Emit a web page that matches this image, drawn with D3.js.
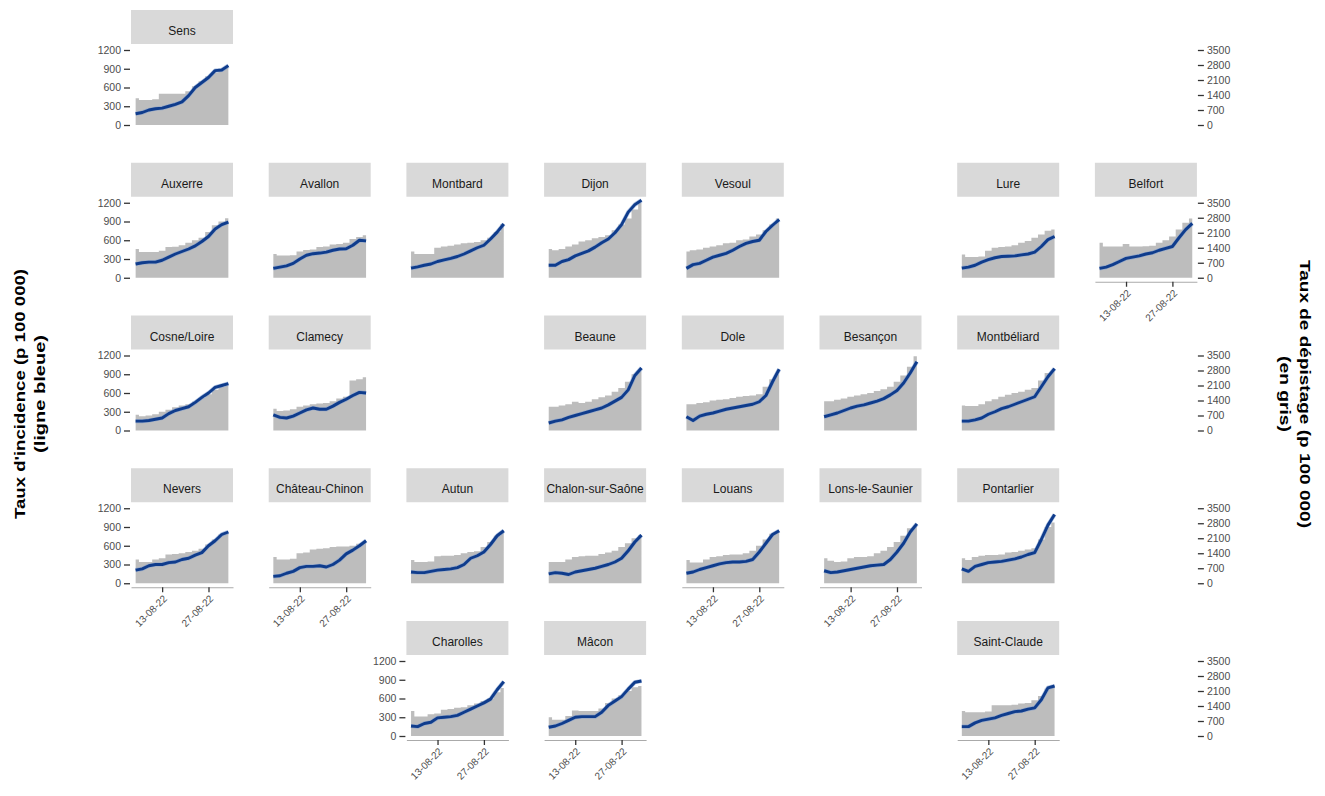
<!DOCTYPE html>
<html>
<head>
<meta charset="utf-8">
<style>
  body { margin: 0; padding: 0; background: #fff; }
  text { font-family: "Liberation Sans", Arial, sans-serif; }
</style>
</head>
<body>
<div id="chart"></div>
<script src="https://cdnjs.cloudflare.com/ajax/libs/d3/7.8.5/d3.min.js"></script>
<script>
// one reading every two days
var dates = ["2022-08-05", "2022-08-07", "2022-08-09", "2022-08-11", "2022-08-13",
  "2022-08-15", "2022-08-17", "2022-08-19", "2022-08-21", "2022-08-23",
  "2022-08-25", "2022-08-27", "2022-08-29", "2022-08-31", "2022-09-02"];

var sites = ["Sens", "Auxerre", "Avallon", "Montbard", "Dijon", "Vesoul", "Lure", "Belfort",
  "Cosne/Loire", "Clamecy", "Beaune", "Dole", "Besançon", "Montbéliard",
  "Nevers", "Château-Chinon", "Autun", "Chalon-sur-Saône", "Louans", "Lons-le-Saunier", "Pontarlier",
  "Charolles", "Mâcon", "Saint-Claude"];

// geofacet grid (row, column) of each site
var gridRow = [0, 1, 1, 1, 1, 1, 1, 1, 2, 2, 2, 2, 2, 2, 3, 3, 3, 3, 3, 3, 3, 4, 4, 4];
var gridCol = [0, 0, 1, 2, 3, 4, 6, 7, 0, 1, 3, 4, 5, 6, 0, 1, 2, 3, 4, 5, 6, 2, 3, 6];

// taux d'incidence (ligne bleue), same order as sites
var incidence = [
  [180, 200, 240, 260, 270, 300, 330, 370, 470, 600, 680, 760, 870, 880, 950],
  [220, 240, 250, 250, 280, 330, 380, 420, 460, 510, 580, 660, 780, 850, 890],
  [150, 170, 190, 230, 300, 360, 385, 395, 410, 440, 460, 465, 520, 600, 590],
  [155, 175, 200, 220, 260, 285, 310, 340, 380, 430, 480, 520, 620, 730, 860],
  [200, 200, 260, 290, 350, 390, 430, 490, 560, 620, 720, 850, 1050, 1170, 1240],
  [150, 210, 230, 280, 330, 360, 390, 440, 500, 550, 580, 600, 740, 840, 930],
  [155, 170, 200, 250, 290, 320, 340, 345, 350, 365, 380, 410, 500, 610, 660],
  [150, 170, 210, 260, 310, 330, 350, 380, 400, 440, 470, 500, 640, 770, 870],
  [150, 150, 160, 180, 200, 270, 320, 350, 380, 450, 530, 600, 690, 720, 750],
  [250, 210, 200, 230, 280, 330, 360, 340, 340, 390, 450, 500, 560, 610, 600],
  [120, 150, 170, 210, 240, 270, 300, 330, 360, 410, 470, 530, 650, 880, 1000],
  [220, 160, 230, 260, 280, 310, 340, 360, 380, 400, 420, 460, 560, 780, 980],
  [220, 250, 280, 320, 360, 390, 410, 440, 470, 510, 570, 640, 760, 920, 1100],
  [150, 150, 170, 200, 260, 300, 350, 380, 420, 460, 500, 540, 700, 860, 990],
  [210, 230, 280, 300, 300, 330, 340, 380, 400, 450, 490, 600, 680, 780, 820],
  [110, 120, 160, 190, 250, 270, 270, 280, 260, 300, 370, 470, 530, 600, 680],
  [180, 170, 170, 190, 210, 220, 230, 250, 300, 400, 440, 500, 620, 760, 840],
  [150, 170, 160, 140, 180, 200, 220, 240, 270, 300, 340, 400, 520, 660, 770],
  [160, 180, 220, 250, 280, 310, 330, 340, 340, 350, 380, 500, 640, 780, 840],
  [200, 170, 180, 200, 220, 240, 260, 280, 290, 300, 380, 500, 640, 820, 950],
  [230, 190, 270, 300, 330, 340, 350, 370, 390, 420, 460, 490, 700, 930, 1100],
  [160, 150, 200, 220, 290, 300, 310, 330, 380, 430, 480, 530, 590, 740, 870],
  [140, 160, 200, 250, 300, 310, 310, 310, 380, 490, 560, 630, 750, 860, 880],
  [150, 150, 210, 250, 270, 290, 330, 360, 390, 400, 430, 450, 580, 770, 800]
];

// taux de dépistage (en gris), same order as sites
var depistage = [
  [1250, 1170, 1170, 1200, 1460, 1460, 1460, 1460, 1575, 1810, 2040, 2275, 2450, 2570, 2680],
  [1340, 1200, 1200, 1200, 1255, 1430, 1445, 1520, 1635, 1750, 1870, 2130, 2450, 2630, 2775],
  [1110, 1035, 1035, 1050, 1225, 1300, 1315, 1430, 1460, 1550, 1575, 1635, 1810, 1900, 1985],
  [1225, 1110, 1110, 1110, 1400, 1460, 1490, 1550, 1605, 1635, 1665, 1750, 1870, 2130, 2510],
  [1340, 1285, 1340, 1460, 1550, 1690, 1750, 1840, 1900, 1985, 2220, 2480, 2770, 3180, 3500],
  [1225, 1285, 1315, 1400, 1460, 1520, 1605, 1635, 1750, 1780, 1925, 2015, 2220, 2480, 2770],
  [1080, 965, 965, 990, 1255, 1400, 1430, 1460, 1520, 1635, 1720, 1870, 2015, 2190, 2250],
  [1635, 1460, 1460, 1460, 1575, 1460, 1460, 1475, 1490, 1635, 1750, 1925, 2250, 2570, 2770],
  [730, 670, 700, 760, 875, 965, 1080, 1170, 1225, 1340, 1520, 1690, 1900, 2040, 2100],
  [1020, 905, 935, 990, 1110, 1170, 1225, 1255, 1285, 1370, 1490, 1575, 2335, 2390, 2480],
  [1110, 1110, 1170, 1225, 1340, 1285, 1340, 1460, 1550, 1635, 1810, 1985, 2275, 2630, 2770],
  [1225, 1225, 1285, 1315, 1400, 1430, 1460, 1520, 1575, 1605, 1635, 1690, 2040, 2390, 2630],
  [1370, 1370, 1430, 1490, 1575, 1635, 1690, 1750, 1840, 1925, 2040, 2275, 2570, 2980, 3470],
  [1170, 1140, 1140, 1225, 1370, 1460, 1575, 1665, 1750, 1810, 1900, 1985, 2335, 2680, 2770],
  [1110, 990, 990, 1110, 1170, 1340, 1370, 1400, 1460, 1520, 1605, 1810, 2040, 2275, 2335],
  [1225, 1110, 1110, 1140, 1400, 1430, 1575, 1605, 1635, 1690, 1720, 1720, 1750, 1840, 1955],
  [1080, 990, 990, 1020, 1255, 1285, 1285, 1315, 1400, 1460, 1490, 1690, 1925, 2220, 2365],
  [990, 990, 990, 1110, 1225, 1255, 1285, 1285, 1370, 1430, 1520, 1690, 1870, 2100, 2245],
  [1080, 965, 965, 1110, 1225, 1255, 1315, 1340, 1340, 1400, 1520, 1750, 2040, 2305, 2390],
  [1170, 1050, 990, 1020, 1170, 1225, 1225, 1255, 1400, 1520, 1690, 1925, 2220, 2570, 2715],
  [1170, 1080, 1225, 1285, 1315, 1315, 1340, 1430, 1460, 1520, 1575, 1635, 2040, 2630, 2830],
  [1170, 905, 905, 1020, 1050, 1225, 1255, 1315, 1340, 1430, 1520, 1635, 1750, 2040, 2245],
  [875, 760, 760, 935, 1195, 1170, 1170, 1170, 1285, 1545, 1750, 1900, 2100, 2275, 2335],
  [1170, 1110, 1110, 1110, 1140, 1430, 1430, 1430, 1460, 1520, 1545, 1665, 1870, 2220, 2335]
];

var leftTicks = [0, 300, 600, 900, 1200];
var rightTicks = [0, 700, 1400, 2100, 2800, 3500];
var xTicks = ["2022-08-13", "2022-08-27"];

var width = 1325, height = 796;
var colX0 = 131, colStep = 137.7, rowY0 = 10, rowStep = 152.75;
var panelW = 102, stripH = 34, plotH = 84;
var nCols = 8;

var parseDate = d3.timeParse('%Y-%m-%d');
var dateVals = dates.map(parseDate);
var ext = d3.extent(dateVals);
var pad = (ext[1] - ext[0]) * 0.05;

var x = d3.scaleTime()
  .domain([new Date(+ext[0] - pad), new Date(+ext[1] + pad)])
  .range([0, panelW]);
var yLeft = d3.scaleLinear().domain([0, 1200]).range([plotH - 3, 6]);
var yRight = d3.scaleLinear().domain([0, 3500]).range([plotH - 3, 6]);

var svg = d3.select('#chart').append('svg')
  .attr('width', width).attr('height', height);

var area = d3.area()
  .curve(d3.curveStep)
  .x(function(d) { return x(d.date); })
  .y0(yRight(0))
  .y1(function(d) { return yRight(d.value); });

var line = d3.line()
  .x(function(d) { return x(d.date); })
  .y(function(d) { return yLeft(d.value); });

function colLeft(c) { return colX0 + c * colStep; }
function rowTop(r) { return rowY0 + r * rowStep; }

// lowest panel of each column gets the date axis
var lowest = {};
gridCol.forEach(function(c, i) {
  if (lowest[c] === undefined || gridRow[i] > gridRow[lowest[c]]) lowest[c] = i;
});
// first panel of each row gets the left axis
var firstInRow = {};
gridRow.forEach(function(r, i) {
  if (firstInRow[r] === undefined || gridCol[i] < gridCol[firstInRow[r]]) firstInRow[r] = i;
});

function styleAxis(g) {
  g.select('.domain').remove();
  g.selectAll('.tick line').attr('stroke', '#333').attr('stroke-width', 1.3);
  g.selectAll('.tick text').attr('fill', '#4d4d4d').style('font-size', '10.5px');
}

sites.forEach(function(name, i) {
  var g = svg.append('g')
    .attr('transform', 'translate(' + colLeft(gridCol[i]) + ',' + rowTop(gridRow[i]) + ')');

  // strip
  g.append('clipPath').attr('id', 'clip' + i)
    .append('rect').attr('width', panelW).attr('height', stripH);
  g.append('rect')
    .attr('width', panelW).attr('height', stripH)
    .attr('fill', '#d9d9d9');
  g.append('text')
    .attr('clip-path', 'url(#clip' + i + ')')
    .attr('x', panelW / 2).attr('y', 25)
    .attr('text-anchor', 'middle')
    .attr('fill', '#1a1a1a')
    .style('font-size', '12px')
    .text(name);

  var p = g.append('g').attr('transform', 'translate(0,' + stripH + ')');

  var grey = dateVals.map(function(d, j) { return {date: d, value: depistage[i][j]}; });
  var blue = dateVals.map(function(d, j) { return {date: d, value: incidence[i][j]}; });

  p.append('path').datum(grey)
    .attr('d', area)
    .attr('fill', '#bdbdbd');
  p.append('path').datum(blue)
    .attr('d', line)
    .attr('fill', 'none')
    .attr('stroke', '#7f9ccf')
    .attr('stroke-width', 4.2)
    .attr('stroke-opacity', 0.6)
    .attr('stroke-linejoin', 'round');
  p.append('path').datum(blue)
    .attr('d', line)
    .attr('fill', 'none')
    .attr('stroke', '#0f3c8c')
    .attr('stroke-width', 2.9)
    .attr('stroke-linejoin', 'round');

  if (firstInRow[gridRow[i]] === i) {
    p.append('g')
      .attr('transform', 'translate(-1,0)')
      .call(d3.axisLeft(yLeft).tickValues(leftTicks).tickFormat(d3.format('d'))
        .tickSize(6).tickPadding(3))
      .call(styleAxis);
  }

  if (lowest[gridCol[i]] === i) {
    var ax = p.append('g')
      .attr('transform', 'translate(0,' + (plotH + 1) + ')')
      .call(d3.axisBottom(x)
        .tickValues(xTicks.map(parseDate))
        .tickFormat(d3.timeFormat('%d-%m-%y'))
        .tickSize(5).tickSizeOuter(0));
    ax.select('.domain').attr('stroke', '#aaa').attr('stroke-width', 1.2);
    ax.selectAll('.tick line').attr('stroke', '#333').attr('stroke-width', 1.3);
    ax.selectAll('.tick text')
      .attr('fill', '#4d4d4d')
      .style('font-size', '10px')
      .attr('x', 0).attr('y', 0).attr('dy', 0)
      .attr('text-anchor', 'end')
      .attr('transform', 'translate(5,12) rotate(-45)');
  }
});

// right axis at the right edge of the grid, one per row
d3.range(5).forEach(function(r) {
  svg.append('g')
    .attr('transform', 'translate(' + (colLeft(nCols - 1) + panelW + 1) + ',' + (rowTop(r) + stripH) + ')')
    .call(d3.axisRight(yRight).tickValues(rightTicks).tickFormat(d3.format('d'))
      .tickSize(6).tickPadding(3))
    .call(styleAxis);
});

// axis titles
var leftTitle = svg.append('g').attr('transform', 'translate(0,394)');
leftTitle.append('text')
  .attr('transform', 'translate(25,0) rotate(-90)')
  .attr('text-anchor', 'middle')
  .attr('font-weight', 'bold').style('font-size', '14px')
  .attr('textLength', 250).attr('lengthAdjust', 'spacingAndGlyphs')
  .text("Taux d'incidence (p 100 000)");
leftTitle.append('text')
  .attr('transform', 'translate(45,0) rotate(-90)')
  .attr('text-anchor', 'middle')
  .attr('font-weight', 'bold').style('font-size', '14px')
  .attr('textLength', 118).attr('lengthAdjust', 'spacingAndGlyphs')
  .text('(ligne bleue)');

var rightTitle = svg.append('g').attr('transform', 'translate(0,394)');
rightTitle.append('text')
  .attr('transform', 'translate(1300,0) rotate(90)')
  .attr('text-anchor', 'middle')
  .attr('font-weight', 'bold').style('font-size', '14px')
  .attr('textLength', 268).attr('lengthAdjust', 'spacingAndGlyphs')
  .text('Taux de dépistage (p 100 000)');
rightTitle.append('text')
  .attr('transform', 'translate(1280,0) rotate(90)')
  .attr('text-anchor', 'middle')
  .attr('font-weight', 'bold').style('font-size', '14px')
  .attr('textLength', 76).attr('lengthAdjust', 'spacingAndGlyphs')
  .text('(en gris)');
</script>
</body>
</html>
